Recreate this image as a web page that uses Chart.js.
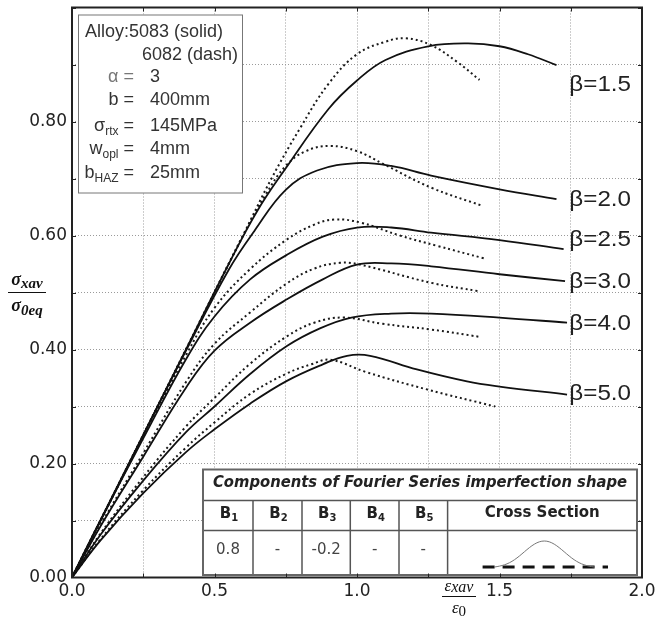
<!DOCTYPE html>
<html>
<head>
<meta charset="utf-8">
<title>Load-shortening curves</title>
<script src="https://cdn.jsdelivr.net/npm/chart.js@4.4.0/dist/chart.umd.min.js"></script>
<style>
  html, body { margin: 0; padding: 0; background: #fff; }
  canvas { display: block; }
</style>
</head>
<body>
<canvas id="curveChart" width="655" height="621"></canvas>
<script>
// average strain / average stress, one list per slenderness
// solid = alloy 5083, dashed = alloy 6082
const beta15Solid = [[0,0],[0.2,0.2],[0.4,0.4],[0.55,0.55],[0.65,0.643],[0.75,0.718],[0.9,0.822],[1.0,0.872],[1.1,0.908],[1.25,0.932],[1.39,0.937],[1.5,0.932],[1.6,0.918],[1.7,0.899]];
const beta15Dash = [[0,0],[0.2,0.2],[0.4,0.4],[0.6,0.6],[0.7,0.70],[0.8,0.788],[0.9,0.866],[1.0,0.918],[1.1,0.94],[1.17,0.946],[1.26,0.934],[1.35,0.905],[1.43,0.873]];
const beta20Solid = [[0,0],[0.2,0.2],[0.4,0.398],[0.55,0.54],[0.64,0.608],[0.75,0.68],[0.86,0.714],[1.0,0.727],[1.12,0.722],[1.26,0.705],[1.5,0.681],[1.7,0.664]];
const beta20Dash = [[0,0],[0.2,0.2],[0.4,0.4],[0.6,0.6],[0.68,0.672],[0.75,0.722],[0.82,0.748],[0.906,0.757],[1.0,0.748],[1.09,0.726],[1.26,0.684],[1.44,0.652]];
const beta25Solid = [[0,0],[0.1,0.1],[0.25,0.244],[0.4,0.383],[0.5,0.458],[0.625,0.523],[0.754,0.566],[0.88,0.598],[1.0,0.614],[1.12,0.614],[1.26,0.605],[1.5,0.592],[1.725,0.576]];
const beta25Dash = [[0,0],[0.1,0.1],[0.25,0.247],[0.4,0.39],[0.5,0.473],[0.625,0.541],[0.754,0.593],[0.85,0.619],[0.92,0.628],[1.01,0.623],[1.15,0.6],[1.28,0.582],[1.445,0.56]];
const beta30Solid = [[0,0],[0.1,0.09],[0.25,0.212],[0.4,0.333],[0.5,0.398],[0.625,0.447],[0.754,0.488],[0.88,0.523],[1.0,0.549],[1.12,0.551],[1.26,0.546],[1.5,0.532],[1.73,0.52]];
const beta30Dash = [[0,0],[0.1,0.092],[0.25,0.218],[0.4,0.343],[0.5,0.41],[0.625,0.465],[0.754,0.516],[0.85,0.542],[0.94,0.552],[1.01,0.549],[1.26,0.517],[1.43,0.502]];
const beta40Solid = [[0,0],[0.1,0.075],[0.25,0.17],[0.4,0.255],[0.5,0.30],[0.625,0.357],[0.754,0.406],[0.87,0.437],[0.98,0.456],[1.12,0.463],[1.26,0.463],[1.5,0.456],[1.737,0.447]];
const beta40Dash = [[0,0],[0.1,0.077],[0.25,0.176],[0.4,0.265],[0.5,0.315],[0.625,0.375],[0.754,0.423],[0.85,0.447],[0.953,0.456],[1.09,0.445],[1.26,0.435],[1.433,0.422]];
const beta50Solid = [[0,0],[0.1,0.065],[0.25,0.148],[0.4,0.22],[0.5,0.26],[0.625,0.305],[0.754,0.345],[0.88,0.374],[0.965,0.389],[1.046,0.389],[1.21,0.365],[1.386,0.344],[1.5,0.335],[1.737,0.321]];
const beta50Dash = [[0,0],[0.1,0.067],[0.25,0.153],[0.4,0.228],[0.5,0.272],[0.625,0.322],[0.754,0.358],[0.84,0.374],[0.906,0.382],[1.034,0.36],[1.245,0.33],[1.485,0.30]];

const betaLabels = ['β=1.5', 'β=2.0', 'β=2.5', 'β=3.0', 'β=4.0', 'β=5.0'];
const betaLabelY = [0.865, 0.664, 0.593, 0.521, 0.447, 0.324];

const xTickLabels = ['0.0', '0.5', '1.0', '1.5', '2.0'];
const yTickLabels = ['0.00', '0.20', '0.40', '0.60', '0.80'];

const fourierHeads = ['1', '2', '3', '4', '5'];
const fourierValues = ['0.8', '-', '-0.2', '-', '-'];

const SANS = '"Liberation Sans", Arial, sans-serif';
const DEJAVU = '"DejaVu Sans", Verdana, sans-serif';
const SERIF = '"Liberation Serif", "Times New Roman", serif';

function toPoints(list) {
    return list.map(p => ({ x: p[0], y: p[1] }));
}

function curve(list, dashed) {
    return {
        data: toPoints(list),
        borderColor: dashed ? '#1a1a1a' : '#111',
        borderWidth: dashed ? 2 : 1.8,
        borderDash: dashed ? [2, 3] : [],
        pointRadius: 0,
        tension: 0.4,
        fill: false
    };
}

// text with a subscript, returns total width
function subText(ctx, main, sub, x, y, mainFont, subFont, align, drop) {
    ctx.font = mainFont;
    const w1 = ctx.measureText(main).width;
    ctx.font = subFont;
    const w2 = ctx.measureText(sub).width;
    let start = x;
    if (align === 'right') start = x - w1 - w2;
    if (align === 'center') start = x - (w1 + w2) / 2;
    ctx.textAlign = 'left';
    ctx.font = mainFont;
    ctx.fillText(main, start, y);
    ctx.font = subFont;
    ctx.fillText(sub, start + w1, y + drop);
    return w1 + w2;
}

const decorations = {
    id: 'decorations',
    afterDatasetsDraw(chart) {
        const ctx = chart.ctx;
        const area = chart.chartArea;
        const xs = chart.scales.x;
        const ys = chart.scales.y;
        ctx.save();
        ctx.textBaseline = 'alphabetic';

        // slenderness labels at the curve ends
        ctx.fillStyle = '#222';
        ctx.font = '22px ' + SANS;
        ctx.textAlign = 'left';
        betaLabels.forEach((t, i) => {
            const px = xs.getPixelForValue(1.745);
            const py = ys.getPixelForValue(betaLabelY[i]);
            ctx.save();
            ctx.translate(px, py + 7);
            ctx.scale(1.1, 1);
            ctx.fillText(t, 0, 0);
            ctx.restore();
        });

        // parameter box
        const bx = area.left + 6, by = area.top + 7, bw = 164, bh = 178;
        ctx.fillStyle = '#fff';
        ctx.fillRect(bx, by, bw, bh);
        ctx.strokeStyle = '#777';
        ctx.lineWidth = 1;
        ctx.strokeRect(bx + 0.5, by + 0.5, bw, bh);
        ctx.fillStyle = '#333';
        ctx.font = '18px ' + SANS;
        ctx.textAlign = 'left';
        ctx.fillText('Alloy:5083 (solid)', bx + 7, by + 22);
        ctx.textAlign = 'right';
        ctx.fillText('6082 (dash)', bx + bw - 4, by + 45);

        const rows = [
            ['α', '', ' =', '3', 67, '#777'],
            ['b', '', ' =', '400mm', 90, '#333'],
            ['σ', 'rtx', ' =', '145MPa', 116, '#333'],
            ['w', 'opl', ' =', '4mm', 139, '#333'],
            ['b', 'HAZ', ' =', '25mm', 163, '#333']
        ];
        rows.forEach(r => {
            const base = by + r[4];
            ctx.font = '18px ' + SANS;
            ctx.fillStyle = r[5];
            ctx.textAlign = 'right';
            const eqW = ctx.measureText(r[2]).width;
            ctx.fillText(r[2], bx + 56, base);
            subText(ctx, r[0], r[1], bx + 56 - eqW, base, '18px ' + SANS, '12px ' + SANS, 'right', 4);
            ctx.fillStyle = '#333';
            ctx.font = '18px ' + SANS;
            ctx.textAlign = 'left';
            ctx.fillText(r[3], bx + 72, base);
        });

        // Fourier component table
        const tl = area.left + 131, tr = area.right - 5;
        const tt = area.bottom - 108, tb = area.bottom - 2.5;
        const r1 = tt + 31, r2 = tt + 61;
        const cols = [tl, tl + 50, tl + 99, tl + 147.3, tl + 196, tl + 244.6, tr];
        ctx.fillStyle = '#fff';
        ctx.fillRect(tl, tt, tr - tl, tb - tt);
        ctx.strokeStyle = '#555';
        ctx.lineWidth = 1.5;
        ctx.beginPath();
        ctx.moveTo(tl, r1); ctx.lineTo(tr, r1);
        ctx.moveTo(tl, r2); ctx.lineTo(tr, r2);
        for (let i = 1; i < cols.length - 1; i++) {
            ctx.moveTo(cols[i], r1); ctx.lineTo(cols[i], tb);
        }
        ctx.stroke();
        ctx.strokeStyle = '#666';
        ctx.lineWidth = 2;
        ctx.strokeRect(tl, tt, tr - tl, tb - tt);

        ctx.fillStyle = '#222';
        ctx.textAlign = 'center';
        ctx.font = 'italic bold 15px ' + DEJAVU;
        ctx.fillText('Components of Fourier Series imperfection shape', (tl + tr) / 2, tt + 17, tr - tl - 20);
        fourierHeads.forEach((s, i) => {
            const cx = (cols[i] + cols[i + 1]) / 2 + 1;
            subText(ctx, 'B', s, cx, r1 + 17, 'bold 15px ' + DEJAVU, 'bold 10px ' + DEJAVU, 'center', 3);
        });
        ctx.textAlign = 'center';
        ctx.font = 'bold 15px ' + DEJAVU;
        ctx.fillText('Cross Section', (cols[5] + cols[6]) / 2, r1 + 16);
        ctx.font = '15px ' + DEJAVU;
        ctx.fillStyle = '#444';
        fourierValues.forEach((v, i) => {
            ctx.fillText(v, (cols[i] + cols[i + 1]) / 2, r2 + 23);
        });

        // cross-section sketch: imperfect plate over its flat reference
        const sx0 = cols[5] + 35, sx1 = tr - 29;
        const sy = tb - 8;
        ctx.strokeStyle = '#111';
        ctx.lineWidth = 3;
        ctx.setLineDash([12, 8]);
        ctx.beginPath();
        ctx.moveTo(sx0, sy); ctx.lineTo(sx1, sy);
        ctx.stroke();
        ctx.setLineDash([]);
        ctx.strokeStyle = '#777';
        ctx.lineWidth = 1;
        ctx.beginPath();
        const c0 = sx0 + 12, c1 = sx1 - 14;
        for (let k = 0; k <= 40; k++) {
            const t = k / 40;
            const px = c0 + (c1 - c0) * t;
            const h = 0.8 * Math.sin(Math.PI * t) - 0.2 * Math.sin(3 * Math.PI * t);
            const py = sy - 26 * h;
            if (k === 0) ctx.moveTo(px, py); else ctx.lineTo(px, py);
        }
        ctx.stroke();

        // frame and inward ticks
        ctx.strokeStyle = '#222';
        ctx.lineWidth = 2;
        ctx.strokeRect(area.left, area.top, area.right - area.left, area.bottom - area.top);
        ctx.lineWidth = 1;
        ctx.beginPath();
        for (let v = 0.25; v < 2; v += 0.25) {
            const px = Math.round(xs.getPixelForValue(v)) + 0.5;
            ctx.moveTo(px, area.top); ctx.lineTo(px, area.top + 4);
            ctx.moveTo(px, area.bottom); ctx.lineTo(px, area.bottom - 4);
        }
        for (let v = 0.1; v < 1; v += 0.1) {
            const py = Math.round(ys.getPixelForValue(v)) + 0.5;
            ctx.moveTo(area.left, py); ctx.lineTo(area.left + 4, py);
            ctx.moveTo(area.right, py); ctx.lineTo(area.right - 4, py);
        }
        ctx.stroke();

        // axis titles as fractions
        ctx.fillStyle = '#111';
        ctx.strokeStyle = '#111';
        const yx = 27;
        subText(ctx, 'σ', 'xav', yx, 285, 'italic bold 18px ' + SERIF, 'italic bold 15px ' + SERIF, 'center', 3);
        subText(ctx, 'σ', '0eq', yx, 311, 'italic bold 18px ' + SERIF, 'italic bold 15px ' + SERIF, 'center', 4);
        ctx.lineWidth = 1.2;
        ctx.beginPath();
        ctx.moveTo(yx - 19, 292.5); ctx.lineTo(yx + 19, 292.5);
        ctx.stroke();

        const xx = 459;
        subText(ctx, 'ε', 'xav', xx, 591, 'italic 17px ' + SERIF, 'italic 16px ' + SERIF, 'center', 1);
        subText(ctx, 'ε', '0', xx, 613, 'italic 17px ' + SERIF, '15px ' + SERIF, 'center', 3);
        ctx.beginPath();
        ctx.moveTo(xx - 17, 596.5); ctx.lineTo(xx + 17, 596.5);
        ctx.stroke();

        ctx.restore();
    }
};

const datasets = [
    curve(beta15Solid, false), curve(beta15Dash, true),
    curve(beta20Solid, false), curve(beta20Dash, true),
    curve(beta25Solid, false), curve(beta25Dash, true),
    curve(beta30Solid, false), curve(beta30Dash, true),
    curve(beta40Solid, false), curve(beta40Dash, true),
    curve(beta50Solid, false), curve(beta50Dash, true)
];

new Chart(document.getElementById('curveChart'), {
    type: 'line',
    data: { datasets: datasets },
    options: {
        responsive: false,
        animation: false,
        layout: { padding: { left: 0, right: 13, top: 7.5, bottom: 0 } },
        plugins: { legend: { display: false }, tooltip: { enabled: false } },
        scales: {
            x: {
                type: 'linear',
                min: 0,
                max: 2,
                afterFit: s => {
                    s.height = 43.5;
                    s.paddingLeft = 0;
                    s.paddingRight = 0;
                },
                ticks: {
                    stepSize: 0.25,
                    autoSkip: false,
                    maxRotation: 0,
                    padding: 4,
                    color: '#222',
                    font: { family: DEJAVU, size: 17 },
                    callback: v => {
                        const t = Number(v).toFixed(1);
                        return xTickLabels.includes(t) && Math.abs(v * 2 - Math.round(v * 2)) < 1e-6 ? t : '';
                    }
                },
                grid: { color: '#9a9a9a', lineWidth: 1, drawTicks: false },
                border: { display: false, dash: [1, 2] }
            },
            y: {
                min: 0,
                max: 1,
                afterFit: s => {
                    s.width = 72;
                    s.paddingTop = 0;
                    s.paddingBottom = 0;
                },
                ticks: {
                    stepSize: 0.1,
                    autoSkip: false,
                    padding: 5,
                    color: '#222',
                    font: { family: DEJAVU, size: 17 },
                    callback: v => {
                        const t = Number(v).toFixed(2);
                        return yTickLabels.includes(t) ? t : '';
                    }
                },
                grid: { color: '#9a9a9a', lineWidth: 1, drawTicks: false },
                border: { display: false, dash: [1, 2] }
            }
        }
    },
    plugins: [decorations]
});
</script>
</body>
</html>
